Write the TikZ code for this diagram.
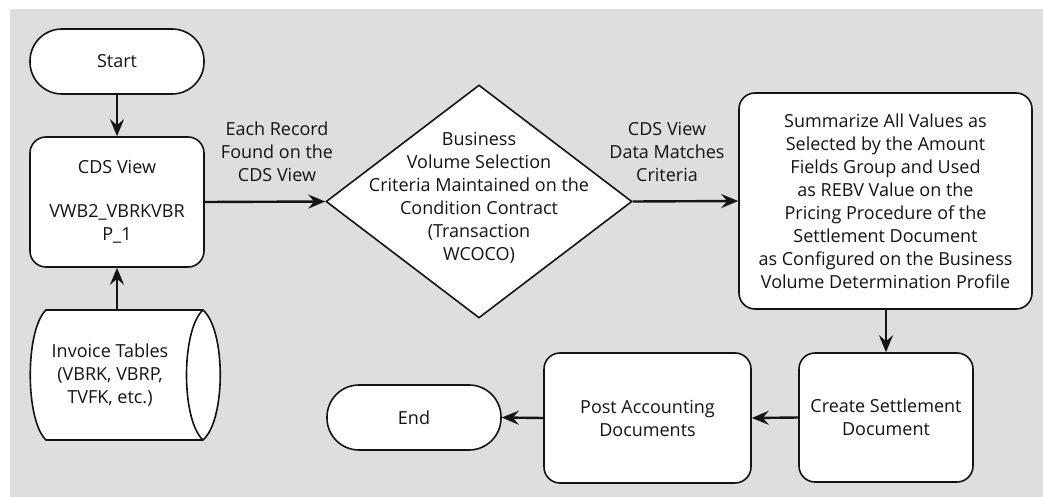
\documentclass[tikz,border=0pt]{standalone}
\usepackage{fontspec}
\setmainfont{Open Sans}
\usetikzlibrary{arrows.meta,shapes.geometric}
\definecolor{bggray}{RGB}{222,222,222}
\definecolor{ink}{RGB}{20,20,20}
\begin{document}
\begin{tikzpicture}[x=1pt,y=-1pt,
  every node/.style={font=\fontsize{18pt}{23pt}\selectfont, text=ink},
  shp/.style={draw=ink, line width=1.6pt, fill=white, inner sep=0pt},
  term/.style={shp, rectangle, rounded corners=32pt, minimum width=174pt, minimum height=65pt},
  box/.style={shp, rectangle, rounded corners=16pt, align=center},
  lbl/.style={align=center, inner sep=0pt},
  arr/.style={draw=ink, line width=2.4pt, -{Stealth[length=17pt,width=14pt,inset=6pt]}}
]
\useasboundingbox (0,0) rectangle (1043,497);
\fill[bggray] (10,9) rectangle (1043,497);

% Start
\node[term] (start) at (117,61.5) {Start};
% CDS view
\node[box, minimum width=174pt, minimum height=130pt] (cds) at (117,202)
  {CDS View\\[21pt]VWB2\_VBRKVBR\\P\_1};
% Invoice tables cylinder
\draw[draw=ink, line width=1.6pt, fill=white]
  (46,310) -- (203,310) .. controls (226,330) and (226,420) .. (203,440)
  -- (46,440) .. controls (25,420) and (25,330) .. (46,310) -- cycle;
\draw[draw=ink, line width=1.6pt] (203,310) .. controls (181,330) and (181,420) .. (203,440);
\node[lbl, minimum height=130pt] (inv) at (110,375) {Invoice Tables\\(VBRK, VBRP,\\TVFK, etc.)};

% Decision diamond
\node[shp, diamond, minimum width=306pt, minimum height=233pt] (dec) at (479,201.5) {};
\node[lbl] (dect) at (479,198) {Business\\Volume Selection\\Criteria Maintained on the\\Condition Contract\\(Transaction\\WCOCO)};

% Summarize
\node[box, minimum width=293pt, minimum height=216pt] (sum) at (885.5,201)
  {Summarize All Values as\\Selected by the Amount\\Fields Group and Used\\as REBV Value on the\\Pricing Procedure of the\\Settlement Document\\as Configured on the Business\\Volume Determination Profile};

% Create settlement
\node[box, minimum width=174pt, minimum height=129pt] (create) at (886,417.5)
  {Create Settlement\\Document};
% Post accounting
\node[box, minimum width=207pt, minimum height=130pt] (post) at (647.5,418)
  {Post Accounting\\Documents};
% End
\node[term] (end) at (414,417.5) {End};

% Labels
\node[lbl] (l1) at (277,152) {Each Record\\Found on the\\CDS View};
\node[lbl] (l2) at (667,152) {CDS View\\Data Matches\\Criteria};

% Connectors
\draw[arr] (start) -- (cds);
\draw[arr] (cds.south |- inv.north) -- (cds.south);
\draw[arr] (cds.east) -- (dec.west);
\draw[arr] (dec.east) -- (sum.west);
\draw[arr] (create.north |- sum.south) -- (create.north);
\draw[arr] (create.west) -- (post.east);
\draw[arr] (post.west) -- (end.east);
\end{tikzpicture}
\end{document}
